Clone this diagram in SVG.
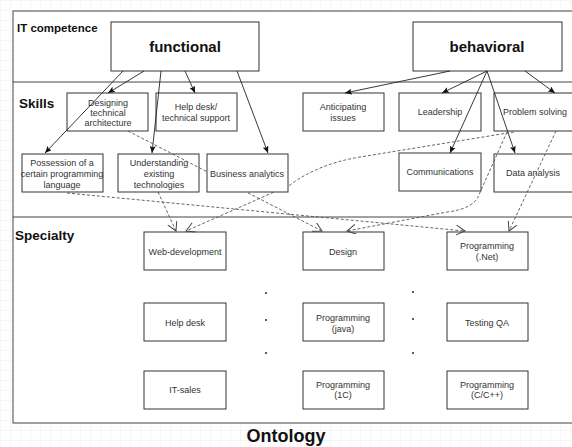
<svg xmlns="http://www.w3.org/2000/svg" width="572" height="447" viewBox="0 0 572 447">
<defs>
<pattern id="grid" width="10" height="10" patternUnits="userSpaceOnUse">
<path d="M10,0 L0,0 L0,10" fill="none" stroke="#ededed" stroke-width="1"/>
</pattern>
<marker id="solid" markerWidth="10" markerHeight="8" refX="7" refY="3" orient="auto" markerUnits="userSpaceOnUse">
<path d="M0,0 L7,3 L0,6 L1.5,3 z" fill="#111"/>
</marker>
<marker id="open" markerWidth="12" markerHeight="12" refX="9" refY="5" orient="auto" markerUnits="userSpaceOnUse">
<path d="M0,0 L9,5 L0,10" fill="none" stroke="#444" stroke-width="1"/>
</marker>
<style>
.box{fill:#fff;stroke:#333;stroke-width:1}
.t{font-family:"Liberation Sans",Arial,sans-serif;font-size:9px;fill:#333;text-anchor:middle}
.h{font-family:"Liberation Sans",Arial,sans-serif;font-weight:bold;fill:#111}
.big{font-family:"Liberation Sans",Arial,sans-serif;font-weight:bold;font-size:15px;fill:#111;text-anchor:middle}
.sl{fill:none;stroke:#222;stroke-width:0.9;marker-end:url(#solid)}
.dl{fill:none;stroke:#555;stroke-width:0.9;stroke-dasharray:3,2;marker-end:url(#open)}
.lane{stroke:#444;stroke-width:1}
.dot{fill:#111}
</style>
</defs>
<rect x="0" y="0" width="572" height="447" fill="#fff"/>
<rect x="0" y="0" width="572" height="447" fill="url(#grid)"/>
<rect x="13" y="11" width="600" height="412" fill="#fff" stroke="#444" stroke-width="1"/>
<line class="lane" x1="13" y1="82" x2="572" y2="82"/>
<line class="lane" x1="13" y1="217" x2="572" y2="217"/>
<text class="h" x="17" y="32" font-size="11.5">IT competence</text>
<text class="h" x="19" y="107.5" font-size="13.5">Skills</text>
<text class="h" x="15" y="240" font-size="13.5">Specialty</text>
<text class="h" x="286" y="441.5" font-size="18" text-anchor="middle">Ontology</text>

<g id="functional"><rect class="box" x="111" y="22" width="148" height="49"/><text class="big" x="185" y="52">functional</text></g>
<g id="behavioral"><rect class="box" x="413" y="22" width="149" height="49"/><text class="big" x="487" y="52">behavioral</text></g>

<g id="designing"><rect class="box" x="67" y="93" width="81" height="38"/><text class="t" x="108" y="106">Designing</text><text class="t" x="108" y="116">technical</text><text class="t" x="108" y="126">architecture</text></g>
<g id="helpdesk-support"><rect class="box" x="156" y="93" width="81" height="38"/><text class="t" x="196" y="110">Help desk/</text><text class="t" x="196" y="120.5">technical support</text></g>
<g id="possession"><rect class="box" x="22" y="154" width="81" height="38"/><text class="t" x="62" y="166">Possession of a</text><text class="t" x="62" y="177">certain programming</text><text class="t" x="62" y="187.5">language</text></g>
<g id="understanding"><rect class="box" x="118" y="154" width="81" height="38"/><text class="t" x="159" y="166">Understanding</text><text class="t" x="159" y="177">existing</text><text class="t" x="159" y="187.5">technologies</text></g>
<g id="anticipating"><rect class="box" x="303" y="93" width="81" height="38"/><text class="t" x="343" y="110">Anticipating</text><text class="t" x="343" y="120.5">issues</text></g>
<g id="leadership"><rect class="box" x="399" y="93" width="82" height="38"/><text class="t" x="440" y="115">Leadership</text></g>
<g id="problem-solving"><rect class="box" x="494" y="93" width="82" height="38"/><text class="t" x="535" y="115">Problem solving</text></g>
<g id="communications"><rect class="box" x="399" y="153" width="82" height="38"/><text class="t" x="440" y="175">Communications</text></g>
<g id="data-analysis"><rect class="box" x="494" y="154" width="82" height="38"/><text class="t" x="533" y="176">Data analysis</text></g>

<g id="web-development"><rect class="box" x="144" y="232" width="82" height="38"/><text class="t" x="185" y="255">Web-development</text></g>
<g id="design"><rect class="box" x="303" y="232" width="81" height="38"/><text class="t" x="343" y="255">Design</text></g>
<g id="programming-net"><rect class="box" x="447" y="232" width="81" height="38"/><text class="t" x="487" y="249">Programming</text><text class="t" x="487" y="259.5">(.Net)</text></g>
<g id="help-desk"><rect class="box" x="144" y="303" width="82" height="38"/><text class="t" x="185" y="326">Help desk</text></g>
<g id="programming-java"><rect class="box" x="303" y="303" width="81" height="38"/><text class="t" x="343" y="320.5">Programming</text><text class="t" x="343" y="331.5">(java)</text></g>
<g id="testing-qa"><rect class="box" x="447" y="303" width="81" height="38"/><text class="t" x="487" y="326">Testing QA</text></g>
<g id="it-sales"><rect class="box" x="144" y="371" width="82" height="38"/><text class="t" x="185" y="393">IT-sales</text></g>
<g id="programming-1c"><rect class="box" x="303" y="371" width="81" height="38"/><text class="t" x="343" y="387.5">Programming</text><text class="t" x="343" y="398">(1C)</text></g>
<g id="programming-cpp"><rect class="box" x="447" y="371" width="81" height="38"/><text class="t" x="487" y="387.5">Programming</text><text class="t" x="487" y="398">(C/C++)</text></g>

<g id="dots">
<circle class="dot" cx="266" cy="293" r="0.9"/><circle class="dot" cx="266" cy="320" r="0.9"/><circle class="dot" cx="266" cy="353" r="0.9"/>
<circle class="dot" cx="413" cy="292" r="0.9"/><circle class="dot" cx="413" cy="319" r="0.9"/><circle class="dot" cx="413" cy="353" r="0.9"/>
</g>

<g id="connectors">
<path class="sl" d="M123,71 L45,153"/>
<path class="sl" d="M144,71 L108,93"/>
<path class="sl" d="M161,71 L152,153"/>
<path class="sl" d="M185,71 L195,93"/>
<path class="sl" d="M237,71 L268,153"/>
<path class="sl" d="M450,71 L345,93"/>
<path class="sl" d="M487,71 L442,93"/>
<path class="sl" d="M487,71 L450,153"/>
<path class="sl" d="M487,71 L515,153"/>
<path class="sl" d="M525,71 L555,93"/>
<path class="dl" d="M128,131 L322,231"/>
<path class="dl" d="M67,193 L465,231"/>
<path class="dl" d="M158,192 L176,231"/>
<path class="dl" d="M514,132 L360,157 Q318,164 290,185 L186,231"/>
<path class="dl" d="M556,131 L509,231"/>
<path class="dl" d="M507,132 L478,197 Q472,209 447,212 L347,231"/>
</g>
<g id="business-analytics"><rect class="box" x="207" y="154" width="81" height="38"/><text class="t" x="247" y="177">Business analytics</text></g>
</svg>
